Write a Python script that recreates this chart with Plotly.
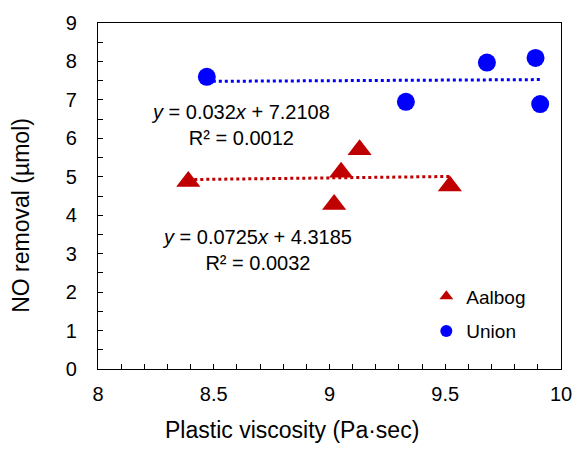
import plotly.graph_objects as go

# ---- data ----
aalbog_x = [8.39, 9.02, 9.05, 9.13, 9.52]
aalbog_y = [4.88, 4.28, 5.12, 5.70, 4.76]
union_x = [8.47, 9.33, 9.68, 9.89, 9.91]
union_y = [7.60, 6.95, 7.97, 8.09, 6.89]

aalbog_slope, aalbog_intercept, aalbog_r2 = 0.0725, 4.3185, "0.0032"
union_slope, union_intercept, union_r2 = 0.032, 7.2108, "0.0012"

x_title = "Plastic viscosity (Pa·sec)"
y_title = "NO removal (µmol)"

RED = "#C00000"
BLUE = "#0000FF"
FONT = "Liberation Sans, Arial, sans-serif"

# plot-area pixel geometry
L, R, T, B = 98, 569, 14, 369
W, H = R - L, B - T

fig = go.Figure()

def trend(xs, m, b):
    x0, x1 = min(xs), max(xs)
    return [x0, x1], [m * x0 + b, m * x1 + b]

tx, ty = trend(aalbog_x, aalbog_slope, aalbog_intercept)
fig.add_trace(go.Scatter(x=tx, y=ty, mode="lines", showlegend=False,
                         line=dict(color=RED, width=3, dash="dot"), hoverinfo="skip"))
tx, ty = trend(union_x, union_slope, union_intercept)
fig.add_trace(go.Scatter(x=tx, y=ty, mode="lines", showlegend=False,
                         line=dict(color=BLUE, width=3, dash="dot"), hoverinfo="skip"))

fig.add_trace(go.Scatter(x=aalbog_x, y=aalbog_y, mode="markers", name="Aalbog", legendgroup="a",
                         marker=dict(symbol="triangle-up", size=21, color=RED)))
fig.add_trace(go.Scatter(x=union_x, y=union_y, mode="markers", name="Union", legendgroup="u",
                         marker=dict(symbol="circle", size=18, color=BLUE)))

def eq_text(m, b, r2):
    return f"<i>y</i> = {m}<i>x</i> + {b}<br>R² = {r2}"

fig.add_annotation(x=8.6175, y=6.336, xref="x", yref="y", showarrow=False,
                   xanchor="center", yanchor="middle",
                   text=eq_text(union_slope, union_intercept, union_r2),
                   align="center", font=dict(size=20, color="black", family=FONT))
fig.add_annotation(x=8.687, y=3.085, xref="x", yref="y", showarrow=False,
                   xanchor="center", yanchor="middle",
                   text=eq_text(aalbog_slope, aalbog_intercept, aalbog_r2),
                   align="center", font=dict(size=20, color="black", family=FONT))

# axis titles positioned like the reference
fig.add_annotation(x=(295.5 - L) / W, y=-(432 - B) / H, xref="paper", yref="paper",
                   xanchor="center", yanchor="middle",
                   showarrow=False, text=x_title, font=dict(size=23, color="black", family=FONT))
fig.add_annotation(x=-(L - 20) / W, y=(B - 211.5) / H, xref="paper", yref="paper",
                   xanchor="center", yanchor="middle",
                   showarrow=False, text=y_title, textangle=-90,
                   font=dict(size=23, color="black", family=FONT))

axis_common = dict(showgrid=False, zeroline=False, showline=True, linecolor="black",
                   linewidth=1.3, mirror=True, ticks="inside", ticklen=5, tickwidth=1.3,
                   tickcolor="black", tickfont=dict(size=20, color="black", family=FONT))

fig.update_xaxes(range=[8, 10], dtick=0.5, tick0=8, ticklabelstandoff=7,
                 minor=dict(dtick=0.1, ticks="inside", ticklen=5, tickwidth=1.3, tickcolor="black"),
                 **axis_common)
fig.update_yaxes(range=[0, 9], dtick=1, tick0=0, ticklabelstandoff=16,
                 minor=dict(dtick=0.5, ticks="inside", ticklen=5, tickwidth=1.3, tickcolor="black"),
                 **axis_common)

fig.update_layout(
    width=584, height=449,
    margin=dict(l=L, r=584 - R, t=T, b=449 - B, pad=0),
    paper_bgcolor="white", plot_bgcolor="white",
    font=dict(family=FONT, color="black"),
    showlegend=True,
    legend=dict(x=(432 - L) / W, y=(B - 275) / H, xanchor="left", yanchor="top",
                font=dict(size=19, color="black", family=FONT), bgcolor="rgba(0,0,0,0)",
                itemsizing="constant", traceorder="grouped", tracegroupgap=7),
)

fig.write_html("out.html", config={"displayModeBar": False},
               post_script="document.body.style.margin='0';document.body.style.overflow='hidden';")
